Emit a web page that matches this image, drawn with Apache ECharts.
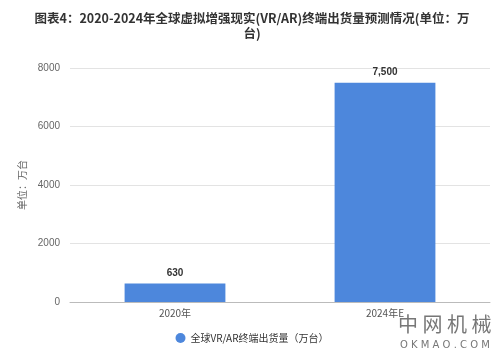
<!DOCTYPE html>
<html><head><meta charset="utf-8">
<script src="https://cdn.jsdelivr.net/npm/echarts@6/dist/echarts.min.js"></script>
<style>html,body{margin:0;padding:0;background:#fff}#c{width:504px;height:358px}</style>
</head><body><div id="c"></div>
<script>
const categories = ['2020年', '2024年E'];
const seriesName = '全球VR/AR终端出货量（万台）';
const values = [630, 7500];
const yTicks = [0, 2000, 4000, 6000, 8000];
const titleText = '图表4：2020-2024年全球虚拟增强现实(VR/AR)终端出货量预测情况(单位：万\n台)';

const chart = echarts.init(document.getElementById('c'));
chart.setOption({
  backgroundColor: '#fff',
  title: {
    text: titleText, left: 'center', top: 6,
    textStyle: { fontSize: 12.5, fontWeight: 'bold', color: '#333', lineHeight: 15, fontFamily: 'Noto Sans CJK SC' }
  },
  grid: { left: 70, right: 14, top: 68, bottom: 56 },
  legend: {
    bottom: 10, left: 'center', icon: 'circle', itemWidth: 10, itemHeight: 10,
    textStyle: { fontSize: 10, color: '#333', fontFamily: 'Noto Sans CJK SC' },
    data: [seriesName]
  },
  xAxis: {
    type: 'category', data: categories,
    axisLine: { lineStyle: { color: '#bbb' } },
    axisTick: { alignWithLabel: true, length: 4, lineStyle: { color: '#bbb' } },
    axisLabel: { fontSize: 10, color: '#555', margin: 6, fontFamily: 'Noto Sans CJK SC' }
  },
  yAxis: {
    type: 'value', min: yTicks[0], max: yTicks[yTicks.length - 1], interval: 2000,
    name: '单位：万台', nameLocation: 'middle', nameGap: 29, nameRotate: 90,
    nameTextStyle: { fontSize: 10, color: '#666', fontFamily: 'Noto Sans CJK SC' },
    axisLine: { show: false }, axisTick: { show: false },
    axisLabel: { fontSize: 10, color: '#666', margin: 10, formatter: v => String(v) },
    splitLine: { lineStyle: { color: '#e3e3e3' } }
  },
  series: [{
    name: seriesName, type: 'bar', data: values, barWidth: '48%',
    itemStyle: { color: '#4d87dc' },
    label: { show: true, position: 'top', fontSize: 10, fontWeight: 'bold', color: '#333',
      formatter: p => p.value.toLocaleString('en-US') }
  }],
  graphic: [
    { type: 'text', left: 398, top: 314, style: { text: '中 网 机 械', fontSize: 20, fill: '#777', fontFamily: 'Noto Sans CJK SC' } },
    { type: 'text', left: 400, top: 340, style: { text: 'O K M A O . C O M', fontSize: 10, fill: '#777', fontFamily: 'DejaVu Sans' } }
  ]
});
</script></body></html>
